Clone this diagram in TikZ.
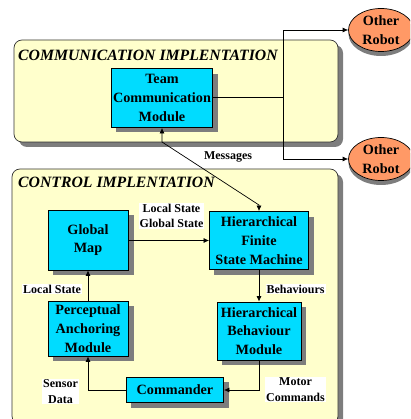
\documentclass[tikz,border=0pt]{standalone}
\usepackage{fontspec}
\setmainfont{Liberation Serif}
\usetikzlibrary{shapes.geometric,arrows.meta,positioning}
\definecolor{panelfill}{RGB}{255,255,204}
\definecolor{modfill}{RGB}{0,220,255}
\definecolor{robotfill}{RGB}{255,153,102}
\definecolor{shadowgray}{RGB}{125,125,125}
\tikzset{
  x=1pt,y=-1pt,
  panel/.style={draw=black!80,line width=0.7pt,fill=panelfill,rounded corners=8pt},
  panelshadow/.style={fill=shadowgray,rounded corners=8pt},
  modbox/.style={draw=black,line width=0.8pt,fill=modfill,align=center,font=\fontsize{14.2}{18.8}\selectfont\bfseries,inner sep=0pt},
  modshadow/.style={fill=shadowgray},
  robot/.style={ellipse,draw=black,line width=0.7pt,fill=robotfill,align=center,inner sep=0pt,font=\fontsize{14.2}{18.8}\selectfont\bfseries,minimum width=65pt,minimum height=43pt},
  titletext/.style={anchor=west,inner sep=0pt,font=\fontsize{15.75}{16}\selectfont\bfseries\itshape},
  lab/.style={fill=white,align=center,inner sep=1pt,font=\fontsize{12}{15.5}\selectfont\bfseries},
  link/.style={draw=black,line width=0.7pt,-{Latex[length=5.5pt,width=5pt]}},
  plain/.style={draw=black,line width=1pt},
}
\begin{document}
\begin{tikzpicture}
\useasboundingbox (0,0) rectangle (410,419);
\clip (0,0) rectangle (410,419);
% panels
\fill[panelshadow] (19,45) rectangle (343,147);
\path[panel] (14,40) rectangle (338,142);
\fill[panelshadow] (17,174) rectangle (343,430);
\path[panel] (12,169) rectangle (338,424);
\node[titletext] (t1) at (18,55) {COMMUNICATION IMPLENTATION};
\node[titletext] (t2) at (18,182) {CONTROL IMPLENTATION};
% module shadows
\fill[modshadow] (116,74) rectangle (218,132);
\fill[modshadow] (53,215) rectangle (134,275);
\fill[modshadow] (214,217) rectangle (314,275);
\fill[modshadow] (53,306) rectangle (134,361);
\fill[modshadow] (222,307) rectangle (306,365);
\fill[modshadow] (131,382) rectangle (229,408);
% robot shadows
\fill[shadowgray] (381,34) ellipse [x radius=32.5,y radius=22];
\fill[shadowgray] (381,163) ellipse [x radius=32.5,y radius=22];
% modules
\node[modbox,minimum width=101pt,minimum height=59pt] (team) at (162,98) {Team\\Communication\\Module};
\node[modbox,minimum width=80pt,minimum height=60pt] (map) at (88,240) {Global\\Map};
\node[modbox,minimum width=99pt,minimum height=58pt] (fsm) at (259,240.5) {Hierarchical\\Finite\\State Machine};
\node[modbox,minimum width=80pt,minimum height=55pt] (anchor) at (88,328.5) {Perceptual\\Anchoring\\Module};
\node[modbox,minimum width=84pt,minimum height=58pt] (behav) at (259,331) {Hierarchical\\Behaviour\\Module};
\node[modbox,minimum width=97pt,minimum height=25pt] (cmd) at (175,390) {Commander};
\node[robot] (r1) at (381,30) {Other\\Robot};
\node[robot] (r2) at (381,159) {Other\\Robot};
% connectors
\coordinate (split) at (283,98);
\coordinate (up) at (283,30);
\coordinate (down) at (283,159);
\coordinate (bendA) at (162,142);
\coordinate (bendB) at (259,205);
\draw[plain] (team.east) -- (split);
\draw[link] (split) -- (up) -- (r1.west);
\draw[link] (split) -- (down) -- (r2.west);
\draw[link,{Latex[length=5.5pt,width=5pt]}-{Latex[length=5.5pt,width=5pt]}] (team.south) -- (bendA) -- (bendB) -- (fsm.north);
\draw[link] (map.east |- fsm.west) -- (fsm.west);
\draw[link] (anchor.north) -- (map.south);
\draw[link] (fsm.south) -- (behav.north);
\coordinate (behcorner) at (behav.south |- cmd.east);
\draw[link] (behav.south) -- (behcorner) -- (cmd.east);
\coordinate (anccorner) at (anchor.south |- cmd.west);
\draw[link] (cmd.west) -- (anccorner) -- (anchor.south);
% labels
\node[lab] (l1) at (228,157) {Messages};
\node[lab] (l2) at (171.5,216) {Local State\\Global State};
\node[lab] (l3) at (52,289) {Local State};
\node[lab] (l4) at (295.5,289) {Behaviours};
\node[lab] (l5) at (60.5,391.5) {Sensor\\Data};
\node[lab] (l6) at (295.5,389.5) {Motor\\Commands};
\end{tikzpicture}
\end{document}
